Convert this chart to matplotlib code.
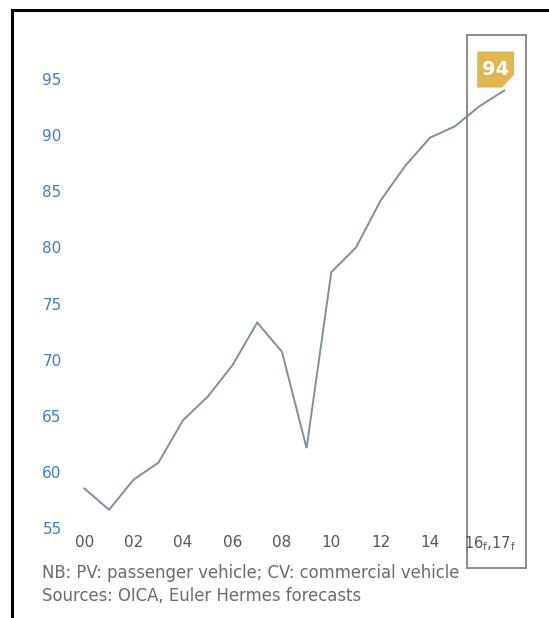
import numpy as np
import matplotlib
matplotlib.use("Agg")
import matplotlib.pyplot as plt
from matplotlib.patches import Polygon, Rectangle
from matplotlib.lines import Line2D
from matplotlib.transforms import ScaledTranslation

plt.rcParams['font.family'] = ['DejaVu Sans']

# car production, millions of vehicles
years = [2000, 2001, 2002, 2003, 2004, 2005, 2006, 2007, 2008,
         2009, 2010, 2011, 2012, 2013, 2014, 2015, 2016, 2017]
values = [58.5, 56.6, 59.3, 60.8, 64.6, 66.7, 69.5, 73.3, 70.7,
          62.1, 77.8, 80.0, 84.2, 87.3, 89.8, 90.8, 92.6, 94.0]
xticks = [2000, 2002, 2004, 2006, 2008, 2010, 2012, 2014]
xlabels = ['00', '02', '04', '06', '08', '10', '12', '14']
yticks = [55, 60, 65, 70, 75, 80, 85, 90, 95]
last_label = '94'

W, H = 549, 618
fig = plt.figure(figsize=(W / 100, H / 100), dpi=100)
# axes placed in pixels: left, bottom, width, height
ax = fig.add_axes([70 / W, 90.3 / H, (540 - 70) / W, (588 - 90.3) / H])

ax.plot(years, values, color='#7d909e', lw=1.4, solid_joinstyle='miter')

ax.set_xlim(1999.42, 2018.45)
ax.set_ylim(55, 99.4)
for s in ax.spines.values():
    s.set_visible(False)
ax.set_yticks(yticks)
ax.set_yticklabels([str(v) for v in yticks], color='#3b7fc4', fontsize=11)
ax.set_xticks(xticks)
ax.set_xticklabels(xlabels, color='#555555', fontsize=11)
ax.tick_params(length=0)
ax.tick_params(axis='y', pad=6)
ax.tick_params(axis='x', pad=5)

# forecast labels
ax.text(2016.42, 55, r'16$_\mathrm{f}$,17$_\mathrm{f}$',
        transform=ax.transData + ScaledTranslation(0, -5 / 72, fig.dpi_scale_trans),
        ha='center', va='top', fontsize=10.5, color='#555555')

# forecast box
ax.add_patch(Rectangle((2015.49, 51.4), 2.39, 47.55, fill=False,
                       ec='#8c8c8c', lw=1.4, clip_on=False))

# badge with last value
tr = fig.dpi_scale_trans + ScaledTranslation(years[-1], values[-1], ax.transData)
badge = Polygon([(-0.27, 0.03), (-0.02, 0.03), (0.10, 0.16), (0.10, 0.39), (-0.27, 0.39)],
                closed=True, fc='#e0b64e', ec='none', transform=tr, clip_on=False)
ax.add_patch(badge)
ax.text(-0.085, 0.215, last_label, transform=tr, ha='center', va='center',
        color='white', fontsize=14, fontweight='bold')

# notes
fig.text(42 / W, 1 - 573 / H, 'NB: PV: passenger vehicle; CV: commercial vehicle',
         color='#6b6b6b', fontsize=11.9, va='center', ha='left')
fig.text(42 / W, 1 - 596 / H, 'Sources: OICA, Euler Hermes forecasts',
         color='#6b6b6b', fontsize=11.9, va='center', ha='left')

# outer frame (top and left only)
fig.add_artist(Line2D([12 / W, 1], [1 - 10 / H, 1 - 10 / H], color='black', lw=2.2))
fig.add_artist(Line2D([12 / W, 12 / W], [0, 1 - 10 / H], color='black', lw=2.2))

fig.savefig('out.png', dpi=100)
